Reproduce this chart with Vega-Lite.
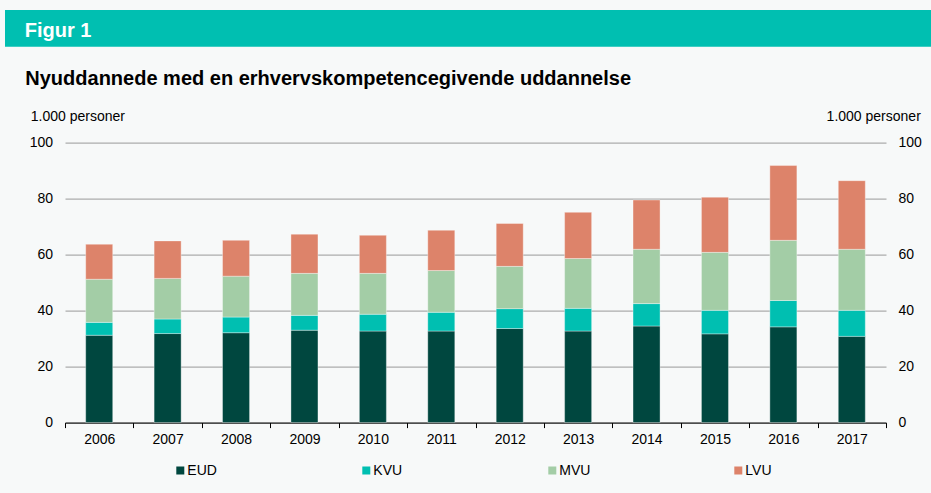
{
  "$schema": "https://vega.github.io/schema/vega-lite/v6.json",
  "background": "#f7f9f9",
  "padding": {"left": 5, "top": 10, "right": 0, "bottom": 15},
  "autosize": {"type": "pad"},
  "config": {"font": "Liberation Sans", "view": {"stroke": null}},
  "datasets": {
    "edu": [
      {"year": "2006", "cat": "EUD", "rank": 1, "value": 31.2}, {"year": "2006", "cat": "KVU", "rank": 2, "value": 4.6}, {"year": "2006", "cat": "MVU", "rank": 3, "value": 15.4}, {"year": "2006", "cat": "LVU", "rank": 4, "value": 12.5},
      {"year": "2007", "cat": "EUD", "rank": 1, "value": 31.8}, {"year": "2007", "cat": "KVU", "rank": 2, "value": 5.2}, {"year": "2007", "cat": "MVU", "rank": 3, "value": 14.5}, {"year": "2007", "cat": "LVU", "rank": 4, "value": 13.4},
      {"year": "2008", "cat": "EUD", "rank": 1, "value": 32.1}, {"year": "2008", "cat": "KVU", "rank": 2, "value": 5.6}, {"year": "2008", "cat": "MVU", "rank": 3, "value": 14.6}, {"year": "2008", "cat": "LVU", "rank": 4, "value": 12.8},
      {"year": "2009", "cat": "EUD", "rank": 1, "value": 33.0}, {"year": "2009", "cat": "KVU", "rank": 2, "value": 5.3}, {"year": "2009", "cat": "MVU", "rank": 3, "value": 15.0}, {"year": "2009", "cat": "LVU", "rank": 4, "value": 14.0},
      {"year": "2010", "cat": "EUD", "rank": 1, "value": 32.7}, {"year": "2010", "cat": "KVU", "rank": 2, "value": 6.0}, {"year": "2010", "cat": "MVU", "rank": 3, "value": 14.6}, {"year": "2010", "cat": "LVU", "rank": 4, "value": 13.6},
      {"year": "2011", "cat": "EUD", "rank": 1, "value": 32.7}, {"year": "2011", "cat": "KVU", "rank": 2, "value": 6.7}, {"year": "2011", "cat": "MVU", "rank": 3, "value": 14.9}, {"year": "2011", "cat": "LVU", "rank": 4, "value": 14.4},
      {"year": "2012", "cat": "EUD", "rank": 1, "value": 33.6}, {"year": "2012", "cat": "KVU", "rank": 2, "value": 7.1}, {"year": "2012", "cat": "MVU", "rank": 3, "value": 15.1}, {"year": "2012", "cat": "LVU", "rank": 4, "value": 15.3},
      {"year": "2013", "cat": "EUD", "rank": 1, "value": 32.7}, {"year": "2013", "cat": "KVU", "rank": 2, "value": 8.1}, {"year": "2013", "cat": "MVU", "rank": 3, "value": 17.8}, {"year": "2013", "cat": "LVU", "rank": 4, "value": 16.5},
      {"year": "2014", "cat": "EUD", "rank": 1, "value": 34.5}, {"year": "2014", "cat": "KVU", "rank": 2, "value": 8.0}, {"year": "2014", "cat": "MVU", "rank": 3, "value": 19.4}, {"year": "2014", "cat": "LVU", "rank": 4, "value": 17.6},
      {"year": "2015", "cat": "EUD", "rank": 1, "value": 31.7}, {"year": "2015", "cat": "KVU", "rank": 2, "value": 8.4}, {"year": "2015", "cat": "MVU", "rank": 3, "value": 20.7}, {"year": "2015", "cat": "LVU", "rank": 4, "value": 19.7},
      {"year": "2016", "cat": "EUD", "rank": 1, "value": 34.2}, {"year": "2016", "cat": "KVU", "rank": 2, "value": 9.4}, {"year": "2016", "cat": "MVU", "rank": 3, "value": 21.5}, {"year": "2016", "cat": "LVU", "rank": 4, "value": 26.7},
      {"year": "2017", "cat": "EUD", "rank": 1, "value": 30.8}, {"year": "2017", "cat": "KVU", "rank": 2, "value": 9.3}, {"year": "2017", "cat": "MVU", "rank": 3, "value": 21.8}, {"year": "2017", "cat": "LVU", "rank": 4, "value": 24.5}
    ]
  },
  "spacing": 95.6,
  "bounds": "flush",
  "vconcat": [
    {
      "width": 926,
      "height": 36.7,
      "view": {"fill": "#00bfb1", "stroke": null},
      "title": {"text": "Figur 1", "anchor": "start", "orient": "top", "frame": "group", "offset": -47, "dx": 19.7, "baseline": "alphabetic", "fontSize": 20, "fontWeight": "bold", "color": "#ffffff"},
      "data": {"values": []},
      "mark": {"type": "point", "opacity": 0}
    },
    {
      "spacing": 0,
      "bounds": "flush",
      "hconcat": [
        {
          "width": 59.7,
          "height": 280,
          "data": {"values": []},
          "mark": {"type": "point", "opacity": 0}
        },
        {
          "width": 821,
          "height": 280,
          "title": {"text": "Nyuddannede med en erhvervskompetencegivende uddannelse", "anchor": "start", "orient": "top", "frame": "group", "offset": 5.3, "dx": -39.7, "baseline": "alphabetic", "fontSize": 20, "fontWeight": "bold", "color": "#000000"},
          "data": {"name": "edu"},
          "layer": [
            {
              "mark": {"type": "bar", "width": {"band": 0.395}, "stroke": "#ffffff", "strokeWidth": 0.5, "strokeOpacity": 0.7},
              "encoding": {
                "x": {"field": "year", "type": "ordinal", "scale": {"paddingInner": 0, "paddingOuter": 0},
                  "axis": {"title": null, "labelAngle": 0, "tickBand": "extent", "tickSize": 5, "domainColor": "#000000", "tickColor": "#000000", "labelFontSize": 14, "labelColor": "#000000", "labelPadding": 5, "grid": false}},
                "y": {"field": "value", "type": "quantitative", "stack": "zero", "scale": {"domain": [0, 100], "nice": false},
                  "axis": {"orient": "left", "title": "1.000 personer", "titleAngle": 0, "titleAlign": "left", "titleBaseline": "alphabetic", "titleX": -34.7, "titleY": -21.8, "titleFontSize": 14, "titleFontWeight": "normal", "titleColor": "#000000", "values": [0, 20, 40, 60, 80, 100], "ticks": false, "domain": false, "grid": true, "gridColor": "#999999", "gridWidth": 1, "labelFontSize": 14, "labelColor": "#000000", "labelPadding": 12.4}},
                "color": {"field": "cat", "type": "nominal",
                  "scale": {"domain": ["EUD", "KVU", "MVU", "LVU"], "range": ["#00473f", "#00bfb1", "#a3cda6", "#dd836a"]},
                  "legend": {"orient": "none", "legendX": 168.3, "legendY": 453.5, "direction": "horizontal", "columns": 4, "gridAlign": "all", "columnPadding": 140, "symbolType": "square", "symbolSize": 64, "symbolStrokeWidth": 0, "symbolOpacity": 1, "labelFontSize": 14, "labelColor": "#000000", "labelOffset": 0, "padding": 0, "title": null}},
                "order": {"field": "rank", "type": "quantitative"}
              }
            },
            {
              "mark": {"type": "bar", "width": {"band": 0.395}, "opacity": 0},
              "encoding": {
                "x": {"field": "year", "type": "ordinal"},
                "y": {"field": "value", "type": "quantitative", "stack": "zero", "scale": {"domain": [0, 100], "nice": false},
                  "axis": {"orient": "right", "title": "1.000 personer", "titleAngle": 0, "titleAlign": "right", "titleBaseline": "alphabetic", "titleX": 34.3, "titleY": -21.8, "titleFontSize": 14, "titleFontWeight": "normal", "titleColor": "#000000", "values": [0, 20, 40, 60, 80, 100], "ticks": false, "domain": false, "grid": false, "labelFontSize": 14, "labelColor": "#000000", "labelPadding": 12}},
                "order": {"field": "rank", "type": "quantitative"}
              }
            }
          ],
          "resolve": {"axis": {"y": "independent"}}
        }
      ]
    }
  ]
}
